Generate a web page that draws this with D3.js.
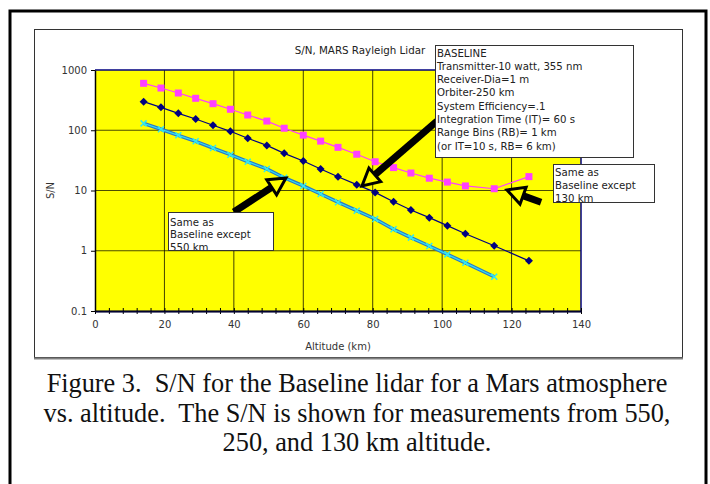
<!DOCTYPE html>
<html>
<head>
<meta charset="utf-8">
<script src="https://cdn.jsdelivr.net/npm/d3@7"></script>
<style>
  body { margin: 0; background: #fff; }
  text { font-family: "DejaVu Sans", Verdana, sans-serif; }
  .caption { font-family: "Liberation Serif", "Times New Roman", serif; white-space: pre; }
</style>
</head>
<body>
<svg width="710" height="484"></svg>
<script>
// altitude (km) of each point
var altitude = [14, 19, 24, 29, 34, 39, 44, 49.5, 54.5, 60, 65, 70, 75.4, 80.7, 86, 91, 96.3, 101.5, 106.7, 115, 125];
var altitude550 = [14, 19, 24, 29, 34, 39, 44, 49.5, 54.5, 60, 65, 70, 75.4, 80.7, 86, 91, 96.3, 101.5, 106.7, 115];

// S/N
var sn130 = [601, 502, 415, 339, 276, 223, 179, 142, 108, 83, 66, 52, 40, 30, 24, 19.5, 16, 13.8, 11.9, 10.7, 17];
var sn250 = [298, 240, 191, 154, 121, 96, 73.5, 56, 41.4, 30.9, 22.8, 16.9, 12.5, 9.3, 6.5, 4.74, 3.54, 2.61, 1.92, 1.21, 0.68];
var sn550 = [130, 104, 82.4, 65.6, 50.7, 39.3, 30.1, 22.8, 16.3, 11.9, 8.75, 6.4, 4.62, 3.37, 2.27, 1.65, 1.2, 0.87, 0.63, 0.37];

var xTicks = [0, 20, 40, 60, 80, 100, 120, 140];
var yTicks = [0.1, 1, 10, 100, 1000];

var baselineText = ["BASELINE", "Transmitter-10 watt, 355 nm", "Receiver-Dia=1 m", "Orbiter-250 km",
  "System Efficiency=.1", "Integration Time (IT)= 60 s", "Range Bins (RB)= 1 km", "(or IT=10 s, RB= 6 km)"];
var note550 = ["Same as", "Baseline except", "550 km"];
var note130 = ["Same as", "Baseline except", "130 km"];
var caption = ["Figure 3.  S/N for the Baseline lidar for a Mars atmosphere",
  "vs. altitude.  The S/N is shown for measurements from 550,",
  "250, and 130 km altitude."];

// arrows in data units: [fromAlt, fromSN, toAlt, toSN]
var arrows = [[98.5, 142, 76.9, 11.9], [40, 4.4, 55, 16.1], [128.5, 6.4, 118.7, 10.2]];

var svg = d3.select("svg");

var plot = {left: 95, right: 581, top: 70, bottom: 311};

var x = d3.scaleLinear().domain([0, 140]).range([plot.left, plot.right]),
    y = d3.scaleLog().domain([0.1, 1000]).range([plot.bottom, plot.top]);

// outer frame
svg.append("rect")
    .attr("x", 10).attr("y", 11).attr("width", 696).attr("height", 490)
    .attr("fill", "#fff").attr("stroke", "#000").attr("stroke-width", 3);

// chart frame
svg.append("rect")
    .attr("x", 34.5).attr("y", 29.5).attr("width", 648).attr("height", 328)
    .attr("fill", "#fff").attr("stroke", "#333").attr("stroke-width", 1);
svg.append("line")
    .attr("x1", 34).attr("x2", 683).attr("y1", 358.5).attr("y2", 358.5)
    .attr("stroke", "#808080").attr("stroke-width", 2);

svg.append("text")
    .attr("x", 360).attr("y", 54)
    .attr("text-anchor", "middle")
    .attr("font-size", 10.3)
    .attr("fill", "#222")
    .text("S/N, MARS Rayleigh Lidar");

// plot area
svg.append("rect")
    .attr("x", plot.left).attr("y", plot.top)
    .attr("width", plot.right - plot.left).attr("height", plot.bottom - plot.top)
    .attr("fill", "#ffff00");

var grid = svg.append("g");
grid.selectAll(".vg")
  .data(xTicks.slice(1, -1))
  .enter().append("line")
    .attr("x1", function(d) { return x(d); }).attr("x2", function(d) { return x(d); })
    .attr("y1", plot.top).attr("y2", plot.bottom)
    .attr("stroke", "#000").attr("stroke-opacity", 0.75);
grid.selectAll(".hg")
  .data(yTicks.slice(1, -1))
  .enter().append("line")
    .attr("x1", plot.left).attr("x2", plot.right)
    .attr("y1", function(d) { return y(d); }).attr("y2", function(d) { return y(d); })
    .attr("stroke", "#000").attr("stroke-opacity", 0.7).attr("stroke-width", 1.2);

// navy border top and right
svg.append("path")
    .attr("d", "M" + plot.left + "," + plot.top + "H" + plot.right + "V" + plot.bottom)
    .attr("fill", "none").attr("stroke", "#000080").attr("stroke-width", 1.5);

// x axis
var xAxisG = svg.append("g").attr("transform", "translate(0," + plot.bottom + ")");
xAxisG.call(d3.axisBottom(x).tickValues(d3.range(0, 141, 4)).tickFormat("").tickSizeInner(3).tickSizeOuter(0));
xAxisG.append("g").call(d3.axisBottom(x).tickValues(d3.range(0, 141, 4)).tickFormat("").tickSizeInner(-3).tickSizeOuter(0));
xAxisG.append("g").call(d3.axisBottom(x).tickValues(xTicks).tickSize(0).tickPadding(10).tickFormat(d3.format("d")));
xAxisG.selectAll("path.domain").attr("stroke", "#000030").attr("stroke-width", 1.5);
xAxisG.selectAll("text").attr("font-size", 10).attr("fill", "#333")
    .attr("font-family", "DejaVu Sans, Verdana, sans-serif");

// y axis
var yAxisG = svg.append("g").attr("transform", "translate(" + plot.left + ",0)");
yAxisG.call(d3.axisLeft(y).tickValues(yTicks).tickSizeInner(4).tickSizeOuter(0).tickPadding(4)
    .tickFormat(function(d) { return d < 1 ? "0.1" : d3.format("d")(d); }));
yAxisG.select("path.domain").attr("stroke", "#000").attr("stroke-width", 1.5);
yAxisG.selectAll("text").attr("font-size", 10).attr("fill", "#333")
    .attr("font-family", "DejaVu Sans, Verdana, sans-serif");

svg.append("text")
    .attr("transform", "translate(54," + ((plot.top + plot.bottom) / 2) + ") rotate(-90)")
    .attr("text-anchor", "middle")
    .attr("font-size", 10).attr("fill", "#333")
    .text("S/N");

svg.append("text")
    .attr("x", (plot.left + plot.right) / 2).attr("y", 350)
    .attr("text-anchor", "middle")
    .attr("font-size", 10).attr("fill", "#333")
    .text("Altitude (km)");

// series
var line = d3.line()
    .x(function(d) { return x(d[0]); })
    .y(function(d) { return y(d[1]); });

var d130 = d3.zip(altitude, sn130),
    d250 = d3.zip(altitude, sn250),
    d550 = d3.zip(altitude550, sn550);

svg.append("path").datum(d550).attr("d", line)
    .attr("fill", "none").attr("stroke", "#2a78c8").attr("stroke-width", 3.5);
svg.append("path").datum(d550).attr("d", line)
    .attr("fill", "none").attr("stroke", "#33e0f0").attr("stroke-width", 1.2);
svg.selectAll(".m550")
  .data(d550)
  .enter().append("path")
    .attr("transform", function(d) { return "translate(" + x(d[0]) + "," + y(d[1]) + ")"; })
    .attr("d", "M-3,-3L3,3M-3,3L3,-3")
    .attr("stroke", "#33e8f0").attr("stroke-width", 1.5);

svg.append("path").datum(d250).attr("d", line)
    .attr("fill", "none").attr("stroke", "#000080").attr("stroke-width", 1.2);
svg.selectAll(".m250")
  .data(d250)
  .enter().append("path")
    .attr("transform", function(d) { return "translate(" + x(d[0]) + "," + y(d[1]) + ")"; })
    .attr("d", "M0,-4L4,0L0,4L-4,0Z")
    .attr("fill", "#000080");

svg.append("path").datum(d130).attr("d", line)
    .attr("fill", "none").attr("stroke", "#ff40ff").attr("stroke-width", 1.2);
svg.selectAll(".m130")
  .data(d130)
  .enter().append("rect")
    .attr("x", function(d) { return x(d[0]) - 3.5; })
    .attr("y", function(d) { return y(d[1]) - 3.5; })
    .attr("width", 7).attr("height", 7)
    .attr("fill", "#ff40ff");

// arrows
arrows.forEach(function(a) {
  var sx = x(a[0]), sy = y(a[1]), tx = x(a[2]), ty = y(a[3]);
  var dx = tx - sx, dy = ty - sy, len = Math.sqrt(dx * dx + dy * dy);
  var ux = dx / len, uy = dy / len, nx = -uy, ny = ux;
  var hl = 17, hw = 9;
  var bx = tx - ux * hl, by = ty - uy * hl;
  svg.append("line")
      .attr("x1", sx).attr("y1", sy).attr("x2", bx + ux * 1).attr("y2", by + uy * 1)
      .attr("stroke", "#000").attr("stroke-width", 7);
  svg.append("path")
      .attr("d", "M" + tx + "," + ty + "L" + (bx + nx * hw) + "," + (by + ny * hw) +
                 "L" + (bx - nx * hw) + "," + (by - ny * hw) + "Z")
      .attr("fill", "#ffff00").attr("stroke", "#000").attr("stroke-width", 3)
      .attr("stroke-linejoin", "miter");
});

// text boxes
function noteBox(lines, bx, by, bw, bh, lh, first) {
  var g = svg.append("g");
  g.append("clipPath").attr("id", "c" + bx)
    .append("rect").attr("x", bx).attr("y", by).attr("width", bw).attr("height", bh);
  g.append("rect")
      .attr("x", bx + 0.5).attr("y", by + 0.5).attr("width", bw).attr("height", bh)
      .attr("fill", "#fff").attr("stroke", "#333").attr("stroke-width", 1);
  g.append("g").attr("clip-path", "url(#c" + bx + ")")
    .selectAll("text")
    .data(lines)
    .enter().append("text")
      .attr("x", bx + 2).attr("y", function(d, i) { return by + first + i * lh; })
      .attr("font-size", 10.2).attr("fill", "#222")
      .text(function(d) { return d; });
}
noteBox(baselineText, 435, 45, 198, 112, 13.3, 11.5);
noteBox(note550, 168, 212, 105, 38, 12.8, 13.5);
noteBox(note130, 553, 164, 101, 38, 12.8, 12);

// caption
svg.selectAll(".caption")
  .data(caption)
  .enter().append("text")
    .attr("class", "caption")
    .attr("x", 357).attr("y", function(d, i) { return 392 + i * 29.5; })
    .attr("text-anchor", "middle")
    .attr("font-size", 26.3)
    .attr("fill", "#111")
    .text(function(d) { return d; });
</script>
</body>
</html>
